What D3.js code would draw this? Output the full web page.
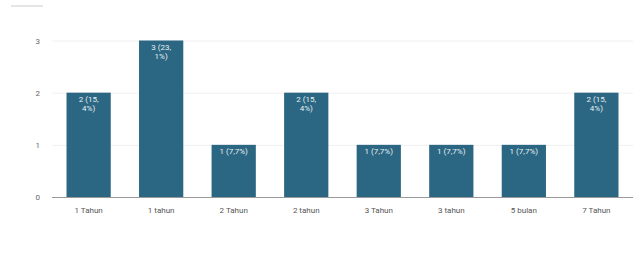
<!DOCTYPE html>
<html><head><meta charset="utf-8">
<script src="https://cdn.jsdelivr.net/npm/d3@7"></script>
<style>body{margin:0;background:#fff}svg{display:block}</style>
</head><body>
<svg id="c" width="638" height="259"></svg>
<script>
const categories = ["1 Tahun","1 tahun","2 Tahun","2 tahun","3 Tahun","3 tahun","5 bulan","7 Tahun"];
const values = [2,3,1,2,1,1,1,2];
const valueLabels = [["2 (15,","4%)"],["3 (23,","1%)"],["1 (7,7%)"],["2 (15,","4%)"],["1 (7,7%)"],["1 (7,7%)"],["1 (7,7%)"],["2 (15,","4%)"]];
const yTicks = [0,1,2,3];

const svg = d3.select("#c");
const m = {l:52, r:5, t:40, b:61};
const W = 638, H = 259;
const x = d3.scaleBand().domain(categories).range([m.l, 633]).paddingInner(0.39).paddingOuter(0.2);
const y = d3.scaleLinear().domain([0,3]).range([197, 40.5]);

svg.append("line").attr("x1",11).attr("x2",43).attr("y1",6).attr("y2",6).attr("stroke","#ddd").attr("stroke-width",1.5);

// gridlines
svg.append("g").selectAll("line").data(yTicks.filter(d=>d>0)).join("line")
  .attr("x1",m.l).attr("x2",633).attr("y1",d=>y(d)+0.5).attr("y2",d=>y(d)+0.5)
  .attr("stroke","#f0f0f0");

const ya = svg.append("g").attr("transform",`translate(${m.l},0)`)
  .call(d3.axisLeft(y).tickValues(yTicks).tickFormat(d3.format("d")).tickSize(0).tickPadding(12));
ya.select(".domain").remove();
ya.selectAll("text").attr("fill","#666").attr("font-size",8).attr("font-family","Roboto, Arial, sans-serif");

svg.append("g").selectAll("rect").data(values).join("rect")
  .attr("x",(d,i)=>x(categories[i])).attr("width",x.bandwidth())
  .attr("y",d=>y(d)).attr("height",d=>y(0)-y(d)).attr("fill","#2b6782");

const xa = svg.append("g").attr("transform",`translate(0,${y(0)})`)
  .call(d3.axisBottom(x).tickSize(0).tickPadding(10));
xa.select(".domain").attr("stroke","#999").attr("d",`M${m.l},0.5H633`);
xa.selectAll("text").attr("fill","#555").attr("font-size",8).attr("font-family","Roboto, Arial, sans-serif");

const lab = svg.append("g").selectAll("text").data(values).join("text")
  .attr("x",(d,i)=>x(categories[i])+x.bandwidth()/2)
  .attr("y",d=>y(d)+9)
  .attr("text-anchor","middle").attr("fill","#e8f0f4")
  .attr("font-size",8).attr("font-family","Roboto, Arial, sans-serif");
lab.each(function(d,i){
  const t=d3.select(this);
  valueLabels[i].forEach((s,k)=>t.append("tspan").attr("x",x(categories[i])+x.bandwidth()/2).attr("dy",k?9:0).text(s));
});
</script>
</body></html>
